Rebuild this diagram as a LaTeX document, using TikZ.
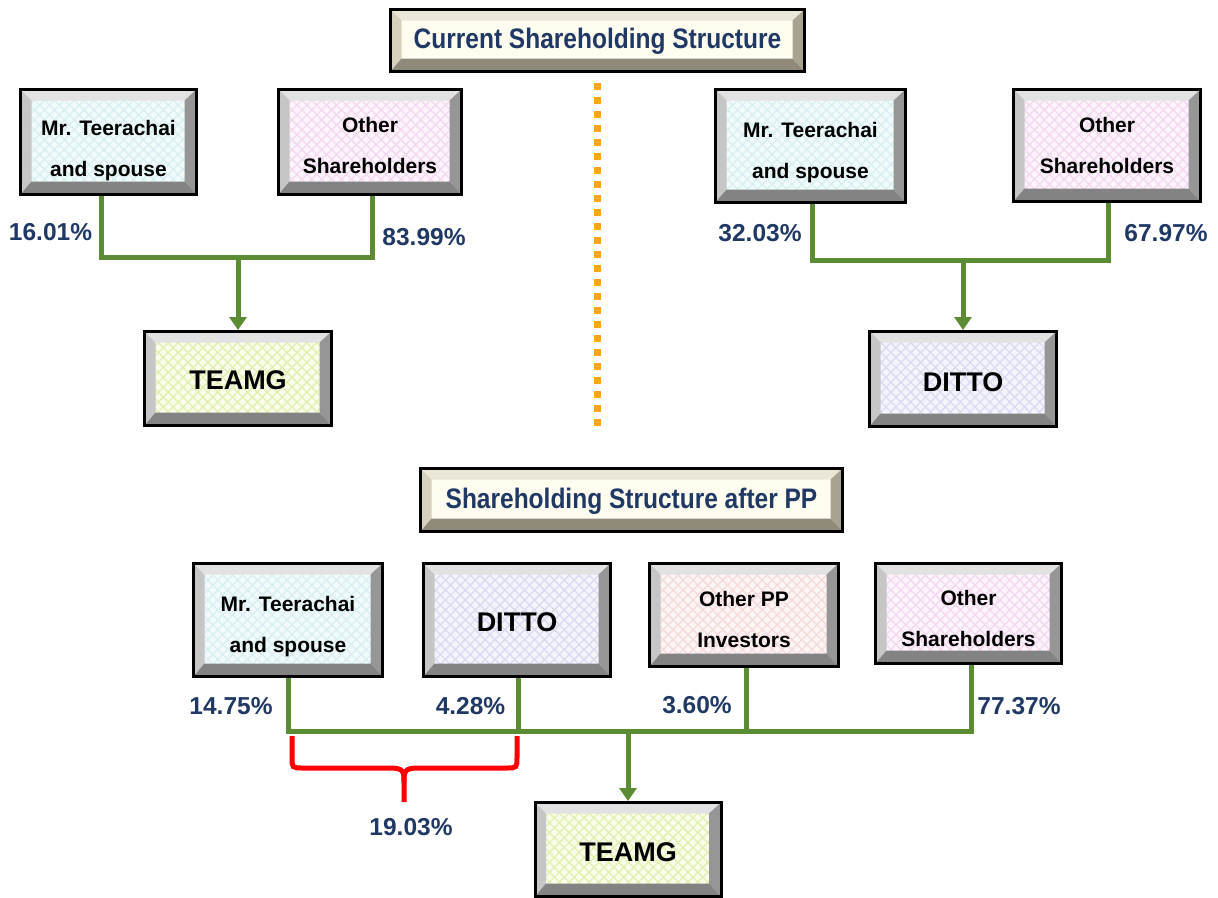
\documentclass[tikz,border=0pt]{standalone}
\usepackage{fontspec}
\setmainfont{Liberation Sans}
\usetikzlibrary{arrows.meta,patterns.meta}
\definecolor{navy}{HTML}{1F3864}
\definecolor{lgreen}{HTML}{5B8C33}
\definecolor{sepor}{HTML}{FFA31A}
\definecolor{bred}{HTML}{FF0000}
\definecolor{cyF}{HTML}{F2FBFB}\definecolor{cyH}{HTML}{D8EFF1}
\definecolor{pkF}{HTML}{FDF4FC}\definecolor{pkH}{HTML}{F4D8F0}
\definecolor{ygF}{HTML}{F9FDEA}\definecolor{ygH}{HTML}{E0F0AE}
\definecolor{lvF}{HTML}{F4F4FC}\definecolor{lvH}{HTML}{DADAF3}
\definecolor{rsF}{HTML}{FDF5F5}\definecolor{rsH}{HTML}{F5DADA}
\definecolor{crF}{HTML}{FEFDF0}
\definecolor{gT}{HTML}{E2E2E2}\definecolor{gL}{HTML}{C6C6C6}\definecolor{gR}{HTML}{969696}\definecolor{gB}{HTML}{838383}
\definecolor{tT}{HTML}{EAE6D8}\definecolor{tL}{HTML}{D6D1BE}\definecolor{tR}{HTML}{A8A391}\definecolor{tB}{HTML}{8F8A79}
\def\bvface{white}\def\bvhatch{white}
\def\bvT{gT}\def\bvL{gL}\def\bvR{gR}\def\bvB{gB}
\tikzset{
  face/.store in=\bvface, hatch/.store in=\bvhatch,
  bevT/.store in=\bvT, bevL/.store in=\bvL, bevR/.store in=\bvR, bevB/.store in=\bvB,
  taupe/.style={bevT=tT, bevL=tL, bevR=tR, bevB=tB},
  bev/.style={rectangle, draw=black, line width=3pt, inner sep=0pt,
    path picture={
      \coordinate (pSW) at (path picture bounding box.south west);
      \coordinate (pNE) at (path picture bounding box.north east);
      \coordinate (pNW) at (pSW |- pNE);
      \coordinate (pSE) at (pNE |- pSW);
      \coordinate (qSW) at ([xshift=11pt,yshift=13pt]pSW);
      \coordinate (qNE) at ([xshift=-12pt,yshift=-11pt]pNE);
      \coordinate (qNW) at (qSW |- qNE);
      \coordinate (qSE) at (qNE |- qSW);
      \fill[\bvface] (pSW) rectangle (pNE);
      \fill[pattern={Lines[angle=45,distance=7pt,line width=1.3pt]}, pattern color=\bvhatch] (pSW) rectangle (pNE);
      \fill[pattern={Lines[angle=-45,distance=7pt,line width=1.3pt]}, pattern color=\bvhatch] (pSW) rectangle (pNE);
      \fill[\bvT] (pNW) -- (pNE) -- (qNE) -- (qNW) -- cycle;
      \fill[\bvL] (pNW) -- (qNW) -- (qSW) -- (pSW) -- cycle;
      \fill[\bvR] (pNE) -- (pSE) -- (qSE) -- (qNE) -- cycle;
      \fill[\bvB] (pSW) -- (qSW) -- (qSE) -- (pSE) -- cycle;
    }},
  btxt/.style={font=\fontsize{21}{41}\selectfont\bfseries, align=center, text=black},
  bigtxt/.style={font=\fontsize{27}{32}\selectfont\bfseries, text=black},
  ttl/.style={font=\fontsize{24.5}{30}\selectfont\bfseries, text=navy},
  pct/.style={font=\fontsize{24.5}{30}\selectfont\bfseries, text=navy},
  gline/.style={draw=lgreen, line width=5pt, line join=miter},
  garrow/.style={gline, -{Triangle[width=17pt,length=13pt]}},
}
\begin{document}
\begin{tikzpicture}[x=1pt,y=-1pt]
\useasboundingbox (0,0) rectangle (1218,897);
% titles
\node[bev, taupe, face=crF, hatch=crF, minimum width=414pt, minimum height=62pt,
  label={[ttl,yshift=-1pt]center:\scalebox{1}[1.15]{Current Shareholding Structure}}] (t1) at (597.5,40.5) {};
\node[bev, taupe, face=crF, hatch=crF, minimum width=422pt, minimum height=63pt,
  label={[ttl,yshift=-1pt]center:\scalebox{1}[1.15]{Shareholding Structure after PP}}] (t2) at (631.5,500) {};
% top left
\node[bev, face=cyF, hatch=cyH, minimum width=176pt, minimum height=105pt,
  label={[btxt,yshift=-9pt]center:Mr. Teerachai\\and spouse}] (a1) at (108.5,142) {};
\node[bev, face=pkF, hatch=pkH, minimum width=183pt, minimum height=105pt,
  label={[btxt,yshift=-3pt]center:Other\\Shareholders}] (a2) at (370,142) {};
\node[bev, face=ygF, hatch=ygH, minimum width=187pt, minimum height=94pt,
  label={[bigtxt,yshift=-2pt]center:TEAMG}] (a3) at (238,378.5) {};
% top right
\node[bev, face=cyF, hatch=cyH, minimum width=190pt, minimum height=113pt,
  label={[btxt,yshift=-7pt]center:Mr. Teerachai\\and spouse}] (b1) at (810.5,146) {};
\node[bev, face=pkF, hatch=pkH, minimum width=187pt, minimum height=112pt,
  label={[btxt,yshift=0pt]center:Other\\Shareholders}] (b2) at (1107,145.5) {};
\node[bev, face=lvF, hatch=lvH, minimum width=187pt, minimum height=95pt,
  label={[bigtxt,yshift=-3pt]center:DITTO}] (b3) at (963,379) {};
% bottom row
\node[bev, face=cyF, hatch=cyH, minimum width=189pt, minimum height=113pt,
  label={[btxt,yshift=-7pt]center:Mr. Teerachai\\and spouse}] (c1) at (288,620) {};
\node[bev, face=lvF, hatch=lvH, minimum width=187pt, minimum height=113pt,
  label={[bigtxt,yshift=-2pt]center:DITTO}] (c2) at (517,620) {};
\node[bev, face=rsF, hatch=rsH, minimum width=189pt, minimum height=103pt,
  label={[btxt,yshift=-4pt]center:Other PP\\Investors}] (c3) at (744,615) {};
\node[bev, face=pkF, hatch=pkH, minimum width=186pt, minimum height=100pt,
  label={[btxt,yshift=-5pt]center:Other\\Shareholders}] (c4) at (968.5,613.5) {};
\node[bev, face=ygF, hatch=ygH, minimum width=186pt, minimum height=94pt,
  label={[bigtxt,yshift=-3pt]center:TEAMG}] (c5) at (628,849.5) {};
% separator
\coordinate (sepA) at (597,83);
\coordinate (sepB) at (597,432);
\draw[sepor, line width=7pt, dash pattern=on 7pt off 7pt] (sepA) -- (sepB);
% connectors top left
\coordinate (j1) at (238,257);
\draw[gline] ([xshift=-7.5pt]a1.south) -- ([xshift=-7.5pt]a1.south |- j1) -- ([xshift=2pt]a2.south |- j1) -- ([xshift=2pt]a2.south);
\draw[garrow] (j1) -- (a3.north);
% connectors top right
\coordinate (j2) at (963,260);
\draw[gline] ([xshift=1.5pt]b1.south) -- ([xshift=1.5pt]b1.south |- j2) -- ([xshift=1pt]b2.south |- j2) -- ([xshift=1pt]b2.south);
\draw[garrow] (j2) -- (b3.north);
% connectors bottom
\coordinate (bus) at (628,731);
\draw[gline] (c1.south) -- (c1.south |- bus) -- ([xshift=2.5pt]c4.south |- bus) -- ([xshift=2.5pt]c4.south);
\draw[gline] ([xshift=1pt]c2.south) -- ([xshift=1pt]c2.south |- bus);
\draw[gline] ([xshift=2pt]c3.south) -- ([xshift=2pt]c3.south |- bus);
\draw[garrow] (bus) -- (c5.north);
% brace
\coordinate (brL) at (292,736);
\coordinate (brR) at (517,736);
\coordinate (brM) at (404,802);
\draw[bred, line width=5pt] (brL) -- (292,757) .. controls (292,768) .. (303,768) -- (390,768)
   .. controls (404,768) and (404,772) .. (404,782) -- (brM);
\draw[bred, line width=5pt] (brR) -- (517,757) .. controls (517,768) .. (506,768) -- (418,768)
   .. controls (404,768) and (404,772) .. (404,782);
% percentages
\node[pct] (p1) at (50.5,232) {16.01\%};
\node[pct] (p2) at (424,237) {83.99\%};
\node[pct] (p3) at (760,233) {32.03\%};
\node[pct] (p4) at (1166,233) {67.97\%};
\node[pct] (p5) at (231,706) {14.75\%};
\node[pct] (p6) at (470.5,706) {4.28\%};
\node[pct] (p7) at (697,705) {3.60\%};
\node[pct] (p8) at (1019,706) {77.37\%};
\node[pct] (p9) at (411,827) {19.03\%};
\end{tikzpicture}
\end{document}
